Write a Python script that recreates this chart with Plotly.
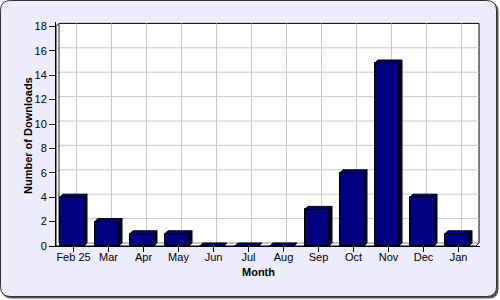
import plotly.graph_objects as go

# ---- data ----
months = ["Feb 25", "Mar", "Apr", "May", "Jun", "Jul", "Aug", "Sep", "Oct", "Nov", "Dec", "Jan"]
downloads = [4, 2, 1, 1, 0, 0, 0, 3, 6, 15, 4, 1]
y_ticks = [0, 2, 4, 6, 8, 10, 12, 14, 16, 18]

# ---- geometry ----
W_FIG, H_FIG = 500, 300
L, T, R, B = 56, 22, 20, 54
PW = W_FIG - L - R          # 424
PH = H_FIG - T - B          # 224
PX_CAT = 35.0
PX_UNIT = 12.2
DEPTH = 3.0
dx = DEPTH / PX_CAT
dy = DEPTH / PX_UNIT
x_range = [-0.5, -0.5 + PW / PX_CAT]
y_range = [0, PH / PX_UNIT]
YMAX = y_ticks[-1]
n = len(months)
xs = list(range(n))

BAR_W = 0.69
BAR_SHIFT = -0.045
NAVY = "#000080"
LAV = "#ececfb"
FONT = "Arial, Liberation Sans, sans-serif"


def fx(px):
    return (px - L) / PW


def fy(py):
    return (T + PH - py) / PH


def rrect(x0, y0, x1, y1, r):
    pts = [
        f"M{fx(x0 + r)},{fy(y0)}",
        f"L{fx(x1 - r)},{fy(y0)}",
        f"Q{fx(x1)},{fy(y0)} {fx(x1)},{fy(y0 + r)}",
        f"L{fx(x1)},{fy(y1 - r)}",
        f"Q{fx(x1)},{fy(y1)} {fx(x1 - r)},{fy(y1)}",
        f"L{fx(x0 + r)},{fy(y1)}",
        f"Q{fx(x0)},{fy(y1)} {fx(x0)},{fy(y1 - r)}",
        f"L{fx(x0)},{fy(y0 + r)}",
        f"Q{fx(x0)},{fy(y0)} {fx(x0 + r)},{fy(y0)}",
        "Z",
    ]
    return " ".join(pts)


shapes = []
# outer frame with shadow
shapes.append(dict(type="path", xref="paper", yref="paper", layer="below",
                   path=rrect(2, 2, 498.5, 298.5, 10), fillcolor="#555555",
                   line=dict(width=0)))
shapes.append(dict(type="path", xref="paper", yref="paper", layer="below",
                   path=rrect(0.5, 0.5, 496.5, 296.5, 10), fillcolor=LAV,
                   line=dict(color="#333333", width=1)))

# walls (white)
xl, xr = -0.5, n - 0.5
wall = (f"M{xl},0 L{xl},{YMAX} L{xl+dx},{YMAX+dy} L{xr+dx},{YMAX+dy} "
        f"L{xr+dx},{dy} L{xr},0 Z")
shapes.append(dict(type="path", xref="x", yref="y", layer="below", path=wall,
                   fillcolor="white", line=dict(color="black", width=1)))

GRID = "#c8c8c8"
for v in y_ticks[1:-1]:
    shapes.append(dict(type="line", xref="x", yref="y", layer="below",
                       x0=xl + dx, x1=xr + dx, y0=v + dy, y1=v + dy,
                       line=dict(color=GRID, width=1)))
    shapes.append(dict(type="line", xref="x", yref="y", layer="below",
                       x0=xl, x1=xl + dx, y0=v, y1=v + dy,
                       line=dict(color=GRID, width=1)))
for i in xs:
    shapes.append(dict(type="line", xref="x", yref="y", layer="below",
                       x0=i + dx, x1=i + dx, y0=dy, y1=YMAX + dy,
                       line=dict(color=GRID, width=1)))
    shapes.append(dict(type="line", xref="x", yref="y", layer="below",
                       x0=i, x1=i + dx, y0=0, y1=dy,
                       line=dict(color=GRID, width=1)))
# back wall left edge and floor back edge
shapes.append(dict(type="line", xref="x", yref="y", layer="below",
                   x0=xl + dx, x1=xl + dx, y0=dy, y1=YMAX + dy,
                   line=dict(color="#222222", width=1)))
shapes.append(dict(type="line", xref="x", yref="y", layer="below",
                   x0=xl + dx, x1=xr + dx, y0=dy, y1=dy,
                   line=dict(color="#888888", width=1)))

fig = go.Figure()

# 3D side faces
sx, sy, tx, ty = [], [], [], []
for i, v in zip(xs, downloads):
    x0 = i + BAR_SHIFT - BAR_W / 2
    x1 = i + BAR_SHIFT + BAR_W / 2
    sx += [x1, x1, x1 + dx, x1 + dx, x1, None]
    sy += [0, v, v + dy, dy, 0, None]
    tx += [x0, x1, x1 + dx, x0 + dx, x0, None]
    ty += [v, v, v + dy, v + dy, v, None]

fig.add_trace(go.Scatter(x=sx, y=sy, mode="lines", fill="toself",
                         fillcolor="#000030", line=dict(color="black", width=1),
                         hoverinfo="skip", showlegend=False))
fig.add_trace(go.Scatter(x=tx, y=ty, mode="lines", fill="toself",
                         fillcolor="#000078", line=dict(color="black", width=1),
                         hoverinfo="skip", showlegend=False))
fig.add_trace(go.Bar(x=xs, y=downloads, width=BAR_W,
                     offset=BAR_SHIFT - BAR_W / 2,
                     marker=dict(color=NAVY, line=dict(color="black", width=1)),
                     showlegend=False))

fig.update_layout(
    width=W_FIG, height=H_FIG,
    margin=dict(l=L, r=R, t=T, b=B, pad=0),
    paper_bgcolor="white",
    plot_bgcolor="rgba(0,0,0,0)",
    shapes=shapes,
    font=dict(family=FONT, size=11, color="black"),
    xaxis=dict(range=x_range, tickmode="array", tickvals=xs, ticktext=months,
               showgrid=False, zeroline=False, showline=True, linecolor="black",
               linewidth=1, ticks="outside", ticklen=5, tickcolor="black",
               ticklabelstandoff=-4, fixedrange=True),
    yaxis=dict(range=y_range, tickmode="array", tickvals=y_ticks,
               showgrid=False, zeroline=False, showline=True, linecolor="black",
               linewidth=1, ticks="outside", ticklen=6, tickcolor="black",
               fixedrange=True),
    annotations=[
        dict(text="<b>Number of Downloads</b>", xref="paper", yref="paper",
             x=fx(28), y=fy(136), xanchor="center", yanchor="middle",
             textangle=-90, showarrow=False,
             font=dict(size=11, family=FONT)),
        dict(text="<b>Month</b>", xref="paper", yref="paper",
             x=fx(258), y=fy(272), xanchor="center", yanchor="middle",
             showarrow=False, font=dict(size=11, family=FONT)),
    ],
    bargap=0,
)

fig.write_html("out.html")
